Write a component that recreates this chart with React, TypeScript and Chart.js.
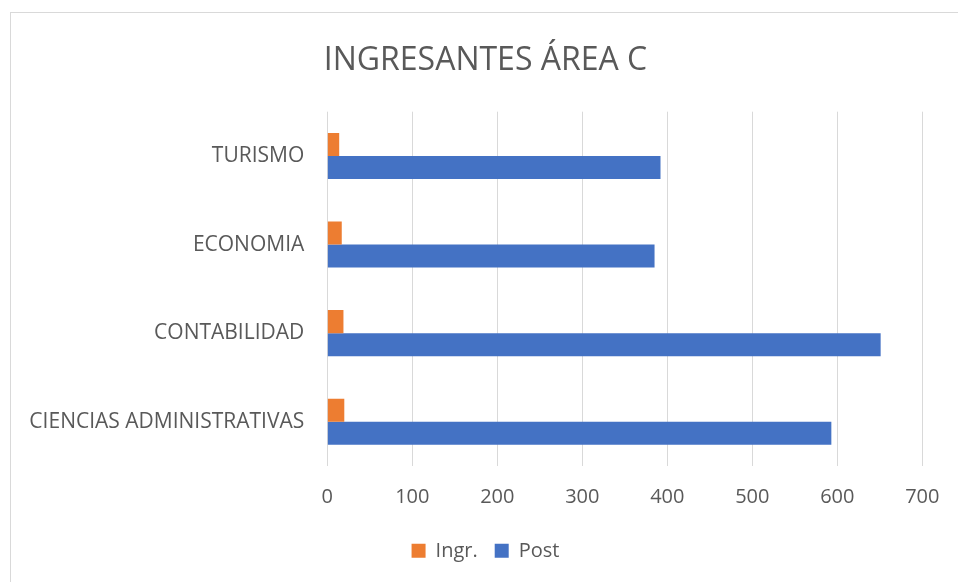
import React, { useEffect, useRef } from "react";
import { Chart, registerables } from "chart.js";

Chart.register(...registerables);

const categories = ["TURISMO", "ECONOMIA", "CONTABILIDAD", "CIENCIAS ADMINISTRATIVAS"];
const ingrValues = [14, 17, 19, 20];
const postValues = [392, 385, 651, 593];
const seriesNames = ["Ingr.", "Post"];
const chartTitle = "INGRESANTES ÁREA C";

const FONT = "'Open Sans', 'DejaVu Sans', sans-serif";
const TEXT = "#595959";

export default function App() {
  const ref = useRef<HTMLCanvasElement | null>(null);

  useEffect(() => {
    if (!ref.current) return;
    const chart = new Chart(ref.current, {
      type: "bar",
      data: {
        labels: categories,
        datasets: [
          { label: seriesNames[0], data: ingrValues, backgroundColor: "#ED7D31", borderWidth: 0 },
          { label: seriesNames[1], data: postValues, backgroundColor: "#4472C4", borderWidth: 0 },
        ],
      },
      options: {
        indexAxis: "y",
        responsive: false,
        animation: false,
        devicePixelRatio: 1,
        datasets: { bar: { categoryPercentage: 0.52, barPercentage: 1 } },
        layout: { padding: { left: 0, right: 0, top: 0, bottom: 22.2 } },
        plugins: {
          title: {
            display: true,
            text: chartTitle,
            color: TEXT,
            font: { family: FONT, size: 32, weight: "normal", lineHeight: 1.2 },
            padding: { top: 28.2, bottom: 32.1 },
          },
          legend: {
            display: true,
            position: "bottom",
            labels: {
              color: TEXT,
              font: { family: FONT, size: 20 },
              boxWidth: 14,
              boxHeight: 14,
              padding: 17,
            },
          },
          tooltip: { enabled: false },
        },
        scales: {
          x: {
            min: 0,
            max: 700,
            ticks: { stepSize: 100, color: TEXT, font: { family: FONT, size: 20 }, padding: 19 },
            grid: { color: "#d9d9d9", lineWidth: 1, drawTicks: false },
            border: { display: false },
            afterFit: (s: any) => {
              s.height = 57.8;
            },
          },
          y: {
            ticks: { color: TEXT, font: { family: FONT, size: 21 }, padding: 23 },
            grid: { display: false, drawTicks: false },
            border: { display: false },
            afterFit: (s: any) => {
              s.width = 316.3;
            },
          },
          yRight: {
            axis: "y",
            type: "linear",
            position: "right",
            display: true,
            ticks: { display: false },
            grid: { display: false, drawTicks: false },
            border: { display: false },
            afterFit: (s: any) => {
              s.width = 37.7;
            },
          },
        },
      },
    });
    return () => chart.destroy();
  }, []);

  return (
    <div
      style={{
        position: "fixed",
        left: 0,
        top: 0,
        width: 958,
        height: 582,
        overflow: "hidden",
        background: "#fff",
      }}
    >
      <div
        style={{
          position: "absolute",
          left: 10,
          top: 12,
          width: 949,
          height: 580,
          border: "1px solid #d9d9d9",
          background: "#fff",
        }}
      >
        <canvas ref={ref} width={949} height={580} style={{ display: "block", width: 949, height: 580 }} />
      </div>
    </div>
  );
}
